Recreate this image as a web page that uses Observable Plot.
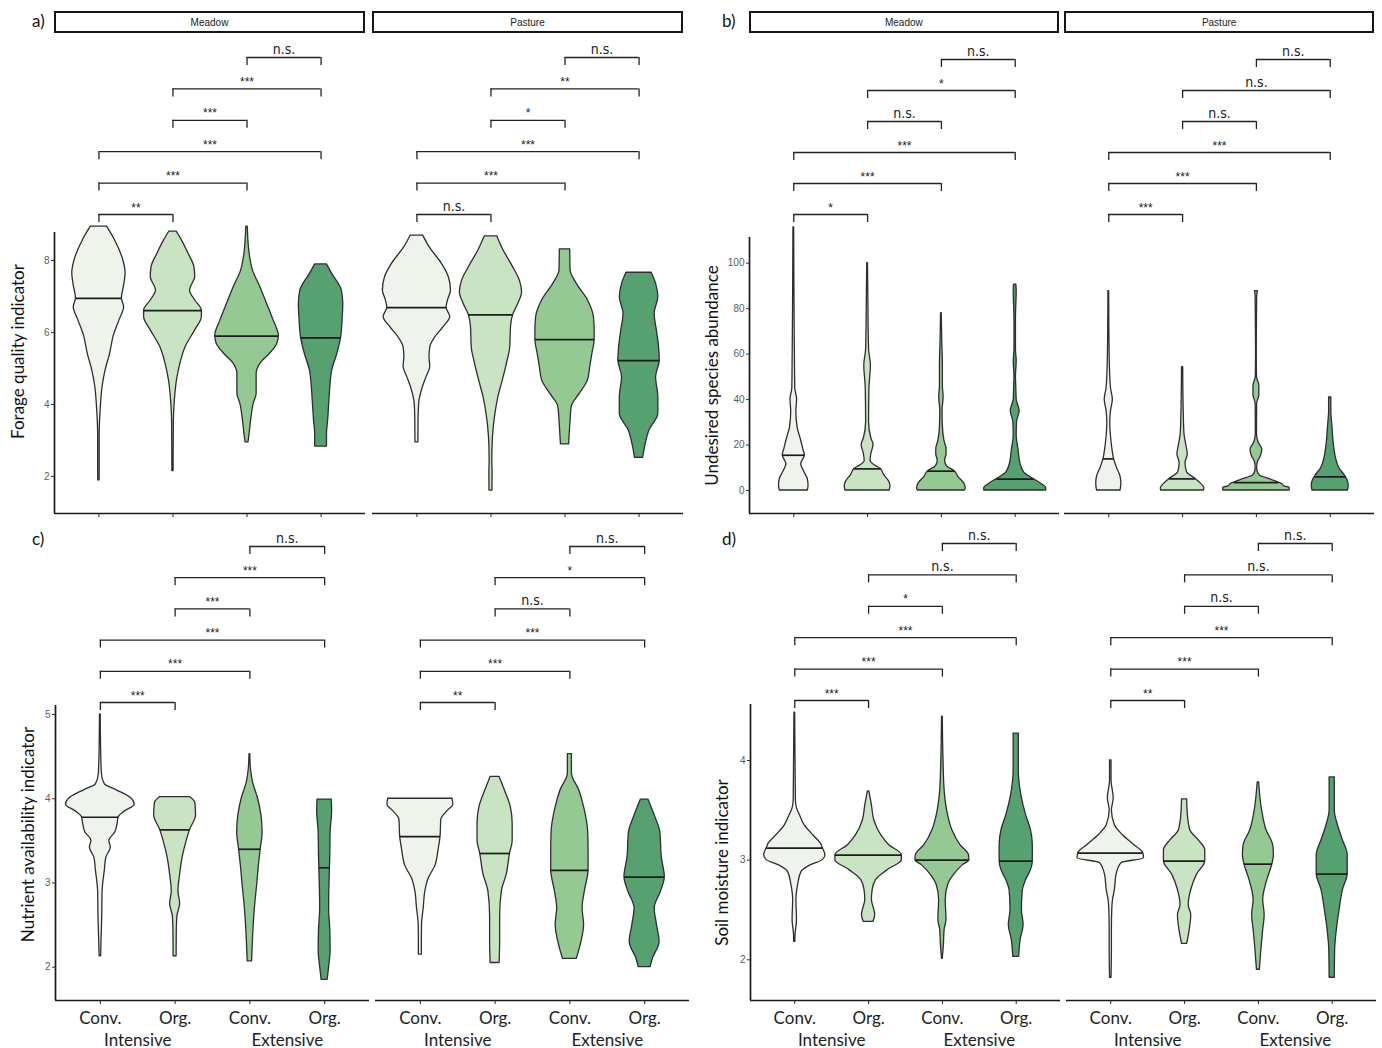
<!DOCTYPE html>
<html><head><meta charset="utf-8">
<script src="https://cdn.jsdelivr.net/npm/d3@7"></script>
<script src="https://cdn.jsdelivr.net/npm/@observablehq/plot@0.6"></script>
<style>
body{margin:0;background:#fff;}
#root{position:relative;width:1382px;height:1048px;overflow:hidden;background:#fff;}
.panel{position:absolute;}
.panel svg{max-width:none !important;}
.strip{position:absolute;border:2px solid #151515;box-sizing:border-box;font:10px "Liberation Sans",Arial,sans-serif;display:flex;align-items:center;justify-content:center;color:#222;background:#fff;}
.plab{position:absolute;font:17px Lato,sans-serif;color:#111;line-height:20px;}
</style></head><body><div id="root"></div>
<script>
// ---------- shared categories ----------
const sites = ["Meadow", "Pasture"];
const groupLabels = ["Conv.", "Org.", "Conv.", "Org."];
const intensityLabels = ["Intensive", "Extensive"];
const groupFills = ["#eef4ec", "#c9e4c3", "#95c994", "#57a070"];
const comparisons = [[1,2],[1,3],[1,4],[2,3],[2,4],[3,4]];

// ---------- a) Forage quality indicator : violin outlines [value, half-width] ----------
const forageTicks = [2,4,6,8];
const forageMeadow = [
  [[1.89,0.01],[3.1,0.01],[3.9,0.025],[4.5,0.05],[4.95,0.09],[5.4,0.15],[5.9,0.2],[6.35,0.28],[6.7,0.34],[6.95,0.31],[7.3,0.34],[7.65,0.36],[8.0,0.33],[8.55,0.22],[8.94,0.11]],
  [[2.15,0.008],[3.55,0.012],[4.1,0.025],[4.67,0.054],[5.13,0.10],[5.59,0.17],[6.06,0.30],[6.43,0.39],[6.61,0.39],[6.89,0.30],[7.17,0.23],[7.54,0.30],[7.81,0.29],[8.19,0.21],[8.56,0.12],[8.8,0.05]],
  [[2.95,0.02],[3.19,0.035],[3.55,0.055],[4.02,0.09],[4.3,0.13],[4.57,0.13],[4.85,0.13],[5.13,0.18],[5.41,0.31],[5.69,0.41],[5.9,0.43],[6.33,0.36],[6.8,0.27],[7.26,0.18],[7.72,0.08],[8.19,0.035],[8.94,0.01]],
  [[2.83,0.08],[3.19,0.08],[3.55,0.095],[4.02,0.11],[4.48,0.125],[4.94,0.15],[5.41,0.22],[5.85,0.27],[6.33,0.29],[6.8,0.30],[7.17,0.28],[7.63,0.15],[7.89,0.08]]
];
const foragePasture = [
  [[2.95,0.02],[3.55,0.022],[4.02,0.03],[4.48,0.08],[4.76,0.13],[5.04,0.18],[5.31,0.17],[5.59,0.18],[5.87,0.25],[6.15,0.36],[6.43,0.45],[6.69,0.40],[6.89,0.42],[7.17,0.46],[7.54,0.43],[7.9,0.34],[8.37,0.17],[8.69,0.085]],
  [[1.61,0.02],[2.07,0.022],[2.44,0.018],[3.1,0.027],[3.74,0.06],[4.2,0.10],[4.67,0.16],[5.13,0.215],[5.59,0.26],[6.15,0.27],[6.49,0.30],[6.8,0.37],[7.12,0.42],[7.44,0.39],[7.81,0.30],[8.28,0.17],[8.67,0.085]],
  [[2.89,0.055],[3.55,0.075],[3.93,0.09],[4.3,0.20],[4.67,0.31],[5.04,0.34],[5.41,0.37],[5.8,0.40],[6.06,0.40],[6.43,0.39],[6.89,0.31],[7.35,0.16],[7.72,0.075],[8.31,0.07]],
  [[2.52,0.055],[2.81,0.08],[3.28,0.14],[3.74,0.26],[4.2,0.26],[4.76,0.23],[5.22,0.28],[5.59,0.27],[6.06,0.24],[6.52,0.21],[6.98,0.26],[7.35,0.23],[7.66,0.17]]
];
const forageMeadowMedians = [6.95, 6.61, 5.9, 5.85];
const foragePastureMedians = [6.69, 6.49, 5.8, 5.22];
const forageMeadowSig = ["**","***","***","***","***","n.s."];
const foragePastureSig = ["n.s.","***","***","*","**","n.s."];

// ---------- b) Undesired species abundance ----------
const undesiredTicks = [0,20,40,60,80,100];
const undesiredMeadow = [
  [[0,0.19],[2,0.20],[5,0.19],[8,0.145],[11.5,0.10],[15.5,0.15],[18,0.13],[22,0.10],[28,0.05],[35,0.035],[40,0.045],[45,0.02],[60,0.015],[80,0.01],[115.8,0.005]],
  [[0,0.30],[2,0.31],[4,0.29],[7,0.22],[9.5,0.18],[11,0.10],[13,0.04],[16,0.05],[20,0.08],[23,0.05],[30,0.02],[45,0.025],[55,0.045],[62,0.02],[85,0.01],[100,0.005]],
  [[0,0.32],[1,0.33],[3,0.31],[6,0.23],[8.5,0.18],[10.5,0.08],[13,0.05],[16,0.07],[18,0.07],[22,0.04],[28,0.02],[35,0.015],[41,0.03],[46,0.02],[55,0.02],[65,0.012],[78,0.005]],
  [[0,0.42],[1,0.42],[3,0.35],[5,0.25],[8,0.12],[12,0.07],[18,0.045],[24,0.02],[30,0.025],[35,0.06],[40,0.02],[45,0.015],[50,0.01],[57,0.02],[62,0.01],[75,0.01],[88,0.02],[90.6,0.015]]
];
const undesiredPasture = [
  [[0,0.16],[3,0.17],[6,0.16],[10,0.11],[14,0.07],[18,0.05],[22,0.035],[30,0.02],[35,0.03],[40,0.055],[45,0.03],[55,0.015],[70,0.008],[87.7,0.005]],
  [[0,0.29],[1,0.295],[3,0.25],[5,0.18],[8,0.06],[12,0.04],[16,0.07],[20,0.05],[25,0.025],[35,0.015],[45,0.01],[54.3,0.008]],
  [[0,0.45],[1.2,0.45],[1.8,0.38],[3,0.34],[3.5,0.30],[5,0.18],[6.5,0.05],[8,0.02],[10,0.01],[12.5,0.02],[15,0.06],[18,0.08],[21,0.03],[25,0.008],[38,0.01],[42,0.04],[46,0.04],[50,0.008],[60,0.005],[85,0.01],[87.7,0.02]],
  [[0,0.24],[2,0.25],[4,0.24],[6,0.21],[10,0.12],[14,0.08],[20,0.05],[28,0.03],[35,0.015],[41,0.015]]
];
const undesiredMeadowMedians = [15.5, 9.5, 8.5, 5];
const undesiredPastureMedians = [13.9, 5.1, 3.5, 6];
const undesiredMeadowSig = ["*","***","***","n.s.","*","n.s."];
const undesiredPastureSig = ["***","***","***","n.s.","n.s.","n.s."];

// ---------- c) Nutrient availability indicator ----------
const nutrientTicks = [2,3,4,5];
const nutrientMeadow = [
  [[2.13,0.01],[2.3,0.015],[2.6,0.025],[2.9,0.03],[3.15,0.06],[3.3,0.08],[3.42,0.14],[3.5,0.12],[3.6,0.2],[3.7,0.23],[3.78,0.245],[3.85,0.33],[3.93,0.46],[4.0,0.42],[4.1,0.22],[4.17,0.06],[4.3,0.02],[4.6,0.01],[5.0,0.005]],
  [[2.13,0.02],[2.4,0.022],[2.6,0.03],[2.75,0.067],[2.9,0.045],[3.1,0.067],[3.3,0.10],[3.5,0.155],[3.63,0.20],[3.8,0.28],[3.95,0.27],[4.02,0.20]],
  [[2.07,0.03],[2.2,0.035],[2.4,0.045],[2.7,0.067],[3.0,0.10],[3.2,0.12],[3.4,0.145],[3.6,0.17],[3.8,0.155],[4.0,0.11],[4.2,0.04],[4.35,0.015],[4.53,0.005]],
  [[1.85,0.04],[2.0,0.06],[2.2,0.08],[2.45,0.075],[2.7,0.06],[3.0,0.065],[3.3,0.075],[3.6,0.08],[3.85,0.1],[3.99,0.095]]
];
const nutrientPasture = [
  [[2.15,0.02],[2.3,0.02],[2.5,0.022],[2.7,0.045],[2.9,0.067],[3.05,0.11],[3.2,0.20],[3.4,0.245],[3.55,0.27],[3.75,0.28],[3.85,0.36],[3.93,0.44],[4.0,0.43]],
  [[2.05,0.06],[2.3,0.067],[2.6,0.067],[2.9,0.09],[3.1,0.155],[3.35,0.20],[3.5,0.235],[3.7,0.235],[3.9,0.21],[4.1,0.13],[4.26,0.06]],
  [[2.1,0.093],[2.3,0.155],[2.5,0.19],[2.7,0.17],[2.9,0.20],[3.15,0.25],[3.35,0.25],[3.6,0.245],[3.9,0.19],[4.1,0.125],[4.3,0.027],[4.53,0.027]],
  [[2.0,0.08],[2.1,0.11],[2.3,0.20],[2.5,0.165],[2.7,0.135],[2.9,0.22],[3.07,0.27],[3.3,0.23],[3.6,0.21],[3.8,0.135],[3.99,0.05]]
];
const nutrientMeadowMedians = [3.78, 3.63, 3.4, 3.18];
const nutrientPastureMedians = [3.55, 3.35, 3.15, 3.07];
const nutrientMeadowSig = ["***","***","***","***","***","n.s."];
const nutrientPastureSig = ["**","***","***","n.s.","*","n.s."];

// ---------- d) Soil moisture indicator ----------
const moistureTicks = [2,3,4];
const moistureMeadow = [
  [[2.18,0.008],[2.25,0.01],[2.4,0.03],[2.6,0.022],[2.75,0.045],[2.88,0.09],[2.95,0.22],[3.0,0.38],[3.05,0.415],[3.12,0.38],[3.17,0.35],[3.25,0.25],[3.35,0.135],[3.45,0.07],[3.52,0.03],[3.6,0.015],[4.0,0.01],[4.48,0.005]],
  [[2.38,0.065],[2.45,0.09],[2.5,0.077],[2.6,0.045],[2.7,0.055],[2.8,0.10],[2.9,0.26],[3.0,0.45],[3.05,0.45],[3.15,0.28],[3.25,0.17],[3.4,0.077],[3.55,0.045],[3.69,0.01]],
  [[2.01,0.005],[2.15,0.02],[2.3,0.03],[2.4,0.055],[2.6,0.045],[2.75,0.077],[2.85,0.155],[2.95,0.28],[3.0,0.365],[3.05,0.36],[3.15,0.245],[3.3,0.135],[3.45,0.077],[3.7,0.03],[4.0,0.015],[4.44,0.005]],
  [[2.03,0.04],[2.2,0.06],[2.35,0.10],[2.5,0.077],[2.7,0.09],[2.8,0.135],[2.9,0.20],[2.99,0.225],[3.15,0.225],[3.3,0.2],[3.45,0.135],[3.65,0.07],[3.9,0.035],[4.27,0.035]]
];
const moisturePasture = [
  [[1.82,0.01],[2.1,0.015],[2.3,0.015],[2.5,0.02],[2.6,0.03],[2.7,0.055],[2.85,0.077],[2.97,0.145],[3.02,0.45],[3.07,0.44],[3.15,0.32],[3.25,0.165],[3.35,0.055],[3.5,0.015],[3.62,0.04],[3.8,0.01],[4.0,0.01]],
  [[2.16,0.035],[2.3,0.07],[2.45,0.09],[2.55,0.055],[2.7,0.09],[2.85,0.165],[2.99,0.28],[3.1,0.28],[3.2,0.19],[3.3,0.077],[3.45,0.045],[3.61,0.035]],
  [[1.9,0.02],[2.1,0.04],[2.3,0.065],[2.45,0.085],[2.6,0.065],[2.8,0.12],[2.96,0.19],[3.05,0.21],[3.15,0.20],[3.3,0.11],[3.5,0.05],[3.78,0.01]],
  [[1.82,0.035],[2.1,0.04],[2.3,0.063],[2.5,0.10],[2.7,0.145],[2.86,0.21],[3.05,0.21],[3.2,0.145],[3.35,0.077],[3.5,0.035],[3.83,0.035]]
];
const moistureMeadowMedians = [3.12, 3.05, 3.0, 2.99];
const moisturePastureMedians = [3.07, 2.99, 2.96, 2.86];
const moistureMeadowSig = ["***","***","***","*","n.s.","n.s."];
const moisturePastureSig = ["**","***","***","n.s.","n.s.","n.s."];

// ---------- panel definitions (layout in page pixels) ----------
const panels = [
  {tag:"a)", title:"Forage quality indicator", ticks:forageTicks, profiles:[forageMeadow, foragePasture], medians:[forageMeadowMedians, foragePastureMedians], sig:[forageMeadowSig, foragePastureSig], xLabels:false, strips:true,
   L:{left:0, top:36, width:690, height:484, axisLeft:54, facetRight:683, gap:7, bottom:513, cal:[2,476,8,260], axisTop:232, bracketBase:214, bracketStep:31.4, titleX:18, titleY:351, labX:32, labY:11}},
  {tag:"b)", title:"Undesired species abundance", ticks:undesiredTicks, profiles:[undesiredMeadow, undesiredPasture], medians:[undesiredMeadowMedians, undesiredPastureMedians], sig:[undesiredMeadowSig, undesiredPastureSig], xLabels:false, strips:true,
   L:{left:690, top:36, width:692, height:484, axisLeft:749, facetRight:1374, gap:5.5, bottom:513, cal:[0,490,100,262.7], axisTop:237, bracketBase:214, bracketStep:31, titleX:712, titleY:375, labX:722, labY:11}},
  {tag:"c)", title:"Nutrient availability indicator", ticks:nutrientTicks, profiles:[nutrientMeadow, nutrientPasture], medians:[nutrientMeadowMedians, nutrientPastureMedians], sig:[nutrientMeadowSig, nutrientPastureSig], xLabels:true, strips:false,
   L:{left:0, top:520, width:690, height:528, axisLeft:55, facetRight:690, gap:6, bottom:1000, cal:[2,966.7,5,714], axisTop:705, bracketBase:702, bracketStep:31.2, titleX:28, titleY:834, labX:32, labY:529}},
  {tag:"d)", title:"Soil moisture indicator", ticks:moistureTicks, profiles:[moistureMeadow, moisturePasture], medians:[moistureMeadowMedians, moisturePastureMedians], sig:[moistureMeadowSig, moisturePastureSig], xLabels:true, strips:false,
   L:{left:690, top:520, width:692, height:528, axisLeft:749, facetRight:1376, gap:6.5, bottom:1000, cal:[2,959.3,4,760], axisTop:704, bracketBase:700, bracketStep:31.4, titleX:721, titleY:862, labX:722, labY:529}}
];

const root = document.getElementById("root");
const narrowFont = "'Liberation Sans Narrow','Arial Narrow','DejaVu Sans Condensed','Liberation Sans',sans-serif";

function interp(prof, m) {
  for (let i = 1; i < prof.length; i++) {
    const [a, wa] = prof[i-1], [b, wb] = prof[i];
    if (m >= a && m <= b) return wa + (wb - wa) * (m - a) / (b - a || 1);
  }
  return prof[prof.length-1][1];
}

function buildPanel(p) {
  const L = p.L;
  const [v1, p1, v2, p2] = L.cal;
  const ppu = (p1 - p2) / (v2 - v1);
  const yAt = px => v1 + (p1 - px) / ppu;
  const yDomain = [yAt(L.bottom), yAt(L.top)];
  const marginLeft = L.axisLeft - L.left;
  const marginRight = L.left + L.width - L.facetRight;
  const marginBottom = L.top + L.height - L.bottom;
  const facetW = (L.facetRight - L.axisLeft - L.gap) / 2;
  const pInner = L.gap / (facetW + L.gap);

  const rows = [], meds = [], brs = [];
  sites.forEach((site, si) => {
    p.profiles[si].forEach((prof0, gi) => {
      const prof = prof0.slice().sort((a, b) => a[0] - b[0]);
      prof.forEach(([v, hw]) => rows.push({site, g: gi + 1, v, hw, id: site + gi}));
      const m = p.medians[si][gi];
      meds.push({site, g: gi + 1, m, w: interp(prof, m)});
    });
    p.sig[si].forEach((label, lvl) => {
      const [g1, g2] = comparisons[lvl];
      brs.push({site, g1, g2, label, y: yAt(L.bracketBase - lvl * L.bracketStep)});
    });
  });
  const ends = brs.flatMap(b => [{site: b.site, g: b.g1, y: b.y}, {site: b.site, g: b.g2, y: b.y}]);
  const tick = 8 / ppu;

  const marks = [];
  groupFills.forEach((fill, gi) => {
    marks.push(Plot.areaX(rows.filter(r => r.g === gi + 1), {
      y: "v", x1: d => d.g - d.hw, x2: d => d.g + d.hw, z: "id", fx: "site",
      fill, stroke: "#2e2e2e", strokeWidth: 1.3, curve: "monotone-y"
    }));
  });
  marks.push(Plot.ruleY(meds, {y: "m", x1: d => d.g - d.w, x2: d => d.g + d.w, fx: "site", stroke: "#1c1c1c", strokeWidth: 1.7}));
  // axes
  marks.push(Plot.ruleY([yDomain[0]], {stroke: "#1a1a1a", strokeWidth: 1.7}));
  marks.push(Plot.ruleX([{site: "Meadow"}], {x: 0.4, y1: yDomain[0], y2: yAt(L.axisTop), fx: "site", stroke: "#1a1a1a", strokeWidth: 1.7}));
  marks.push(Plot.axisY(p.ticks, {tickSize: 3, tickPadding: 2, fontSize: 10, fill: "#5c5c5c", stroke: "#333", tickFormat: d => String(d), fontFamily: "'Liberation Sans',Arial,sans-serif", label: null}));
  marks.push(Plot.axisX([1, 2, 3, 4], {
    tickSize: 4, tickPadding: 7, label: null, stroke: "#222", fill: "#222",
    tickFormat: p.xLabels ? (d => groupLabels[d - 1]) : (() => ""),
    fontSize: 17, fontFamily: "Lato,sans-serif"
  }));
  if (p.xLabels) {
    marks.push(Plot.text(intensityLabels, {x: (d, i) => 1.5 + 2 * i, text: d => d, frameAnchor: "bottom", dy: 45, fontSize: 17, fontFamily: "Lato,sans-serif", fill: "#222"}));
  }
  // y title
  marks.push(Plot.text([p.title], {fx: () => "Meadow", x: 0.4, y: yAt(L.titleY), text: d => d, rotate: -90, dx: L.titleX - L.axisLeft, fontSize: 17, fontFamily: "Lato,sans-serif", fill: "#111"}));
  // significance brackets
  marks.push(Plot.ruleY(brs, {y: "y", x1: "g1", x2: "g2", fx: "site", stroke: "#222", strokeWidth: 1.3}));
  marks.push(Plot.ruleX(ends, {x: "g", y1: "y", y2: d => d.y - tick, fx: "site", stroke: "#222", strokeWidth: 1.3}));
  marks.push(Plot.text(brs.filter(b => b.label !== "n.s."), {x: d => (d.g1 + d.g2) / 2, y: "y", text: "label", fx: "site", lineAnchor: "bottom", dy: -3, fontSize: 12, fontFamily: "'Liberation Sans',Arial,sans-serif", fill: "#222"}));
  marks.push(Plot.text(brs.filter(b => b.label === "n.s."), {x: d => (d.g1 + d.g2) / 2, y: "y", text: "label", fx: "site", lineAnchor: "bottom", dy: -4, fontSize: 14, fontFamily: narrowFont, fill: "#222"}));

  const chart = Plot.plot({
    width: L.width, height: L.height,
    marginLeft, marginRight, marginTop: 0, marginBottom,
    x: {domain: [0.4, 4.6]},
    y: {domain: yDomain},
    fx: {domain: sites, paddingInner: pInner, paddingOuter: 0, axis: null},
    style: {background: "transparent", overflow: "visible", fontFamily: "'Liberation Sans',Arial,sans-serif", color: "#111"},
    marks
  });
  const div = document.createElement("div");
  div.className = "panel";
  div.style.left = L.left + "px";
  div.style.top = L.top + "px";
  div.style.width = L.width + "px";
  div.style.height = L.height + "px";
  div.appendChild(chart);
  root.appendChild(div);

  if (p.strips) {
    sites.forEach((site, si) => {
      const x0 = L.axisLeft + si * (facetW + L.gap);
      const s = document.createElement("div");
      s.className = "strip";
      s.style.left = x0 + "px";
      s.style.top = "11px";
      s.style.width = facetW + "px";
      s.style.height = "22px";
      s.textContent = site;
      root.appendChild(s);
    });
  }
  const lab = document.createElement("div");
  lab.className = "plab";
  lab.style.left = L.labX + "px";
  lab.style.top = L.labY + "px";
  lab.textContent = p.tag;
  root.appendChild(lab);
}

panels.forEach(buildPanel);
</script></body></html>
